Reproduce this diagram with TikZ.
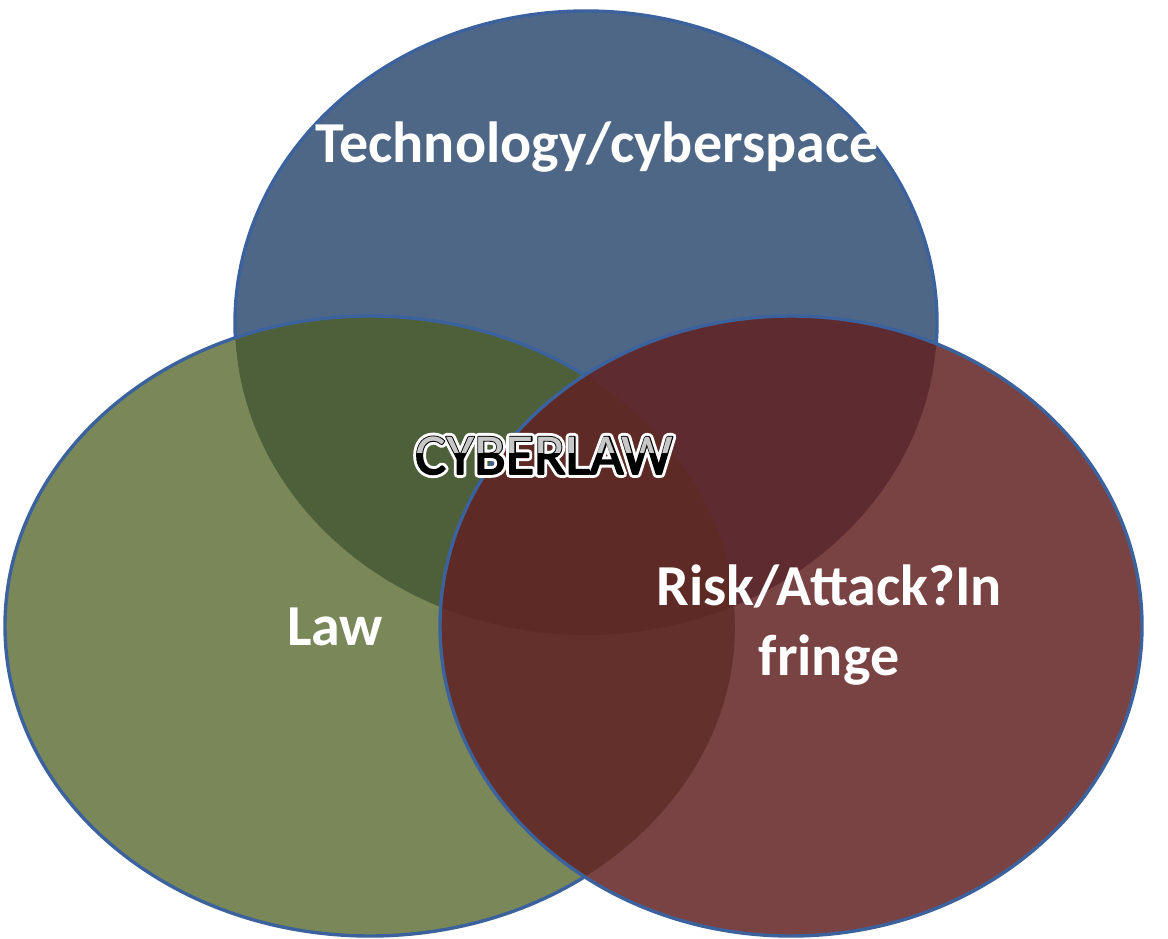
\documentclass[tikz,border=0pt]{standalone}
\usepackage{fontspec}
\setmainfont{Carlito}
\newfontfamily\cybhalo[FakeBold=13]{Carlito}
\newfontfamily\cybedge[FakeBold=3]{Carlito}
\definecolor{cB}{RGB}{79,103,134}
\definecolor{cG}{RGB}{122,136,89}
\definecolor{cR}{RGB}{122,67,67}
\definecolor{cBG}{RGB}{77,96,57}
\definecolor{cBR}{RGB}{94,43,48}
\definecolor{cGR}{RGB}{100,48,43}
\definecolor{cT}{RGB}{94,42,38}
\definecolor{cEdge}{RGB}{60,98,158}
\begin{document}
\begin{tikzpicture}[x=1pt,y=-1pt,
  edge/.style={draw=cEdge,line width=3.4pt},
  lbl/.style={font=\bfseries\fontsize{58}{64}\selectfont,text=white,anchor=base,inner sep=0pt},
  cyb/.style={font=\fontsize{58}{60}\selectfont,anchor=base,inner sep=0pt,line join=round}]
\useasboundingbox (0,0) rectangle (1168,939);
\fill[white] (0,0) rectangle (1168,939);
\def\pathB{(586,323) ellipse [x radius=351pt, y radius=312pt]}
\def\pathG{(370,626) ellipse [x radius=365pt, y radius=310pt]}
\def\pathR{(791,626) ellipse [x radius=351pt, y radius=310pt]}
% blue
\fill[cB] \pathB;
\draw[edge] \pathB;
% green
\fill[cG] \pathG;
\begin{scope}
  \clip \pathG;
  \fill[cBG] \pathB;
\end{scope}
\draw[edge] \pathG;
% red
\fill[cR] \pathR;
\begin{scope}
  \clip \pathR;
  \fill[cBR] \pathB;
  \fill[cGR] \pathG;
  \clip \pathB;
  \fill[cT] \pathG;
\end{scope}
\draw[edge] \pathR;
% labels
\node[lbl] (tech) at (597,163) {Technology/cyberspace};
\node[lbl] (law) at (335,645) {Law};
\node[lbl] (risk) at (829,605) {Risk/Attack?In};
\node[lbl] (fringe) at (829,675) {fringe};
% CYBERLAW outlined
\begin{scope}[line join=round]
\node[cyb,text=white,font=\cybhalo\fontsize{58}{60}\selectfont] (cyberhalo) at (544,474) {CYBERLAW};
\node[cyb,text=black,font=\cybedge\fontsize{58}{60}\selectfont] (cyber) at (544,474) {CYBERLAW};
\end{scope}
\begin{scope}
  \clip (400,420) rectangle (700,452);
  \node[cyb,text=white!78!black] (cybertop) at (544,474) {CYBERLAW};
\end{scope}
\end{tikzpicture}
\end{document}
